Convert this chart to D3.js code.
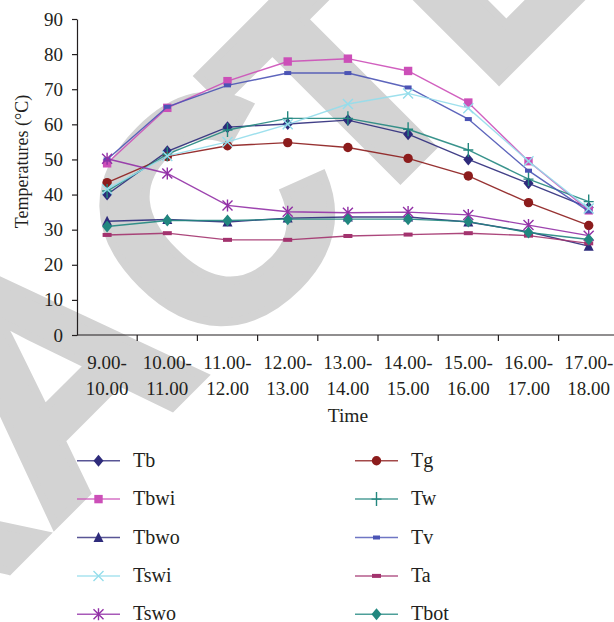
<!DOCTYPE html>
<html>
<head>
<meta charset="utf-8">
<script src="https://cdn.jsdelivr.net/npm/d3@7"></script>
<style>
  html, body { margin: 0; padding: 0; background: #ffffff; }
  svg { display: block; }
</style>
</head>
<body>
<svg id="chart" width="614" height="622"></svg>
<script>
// ---------------- DATA ----------------
const categories = ["9.00-10.00", "10.00-11.00", "11.00-12.00", "12.00-13.00", "13.00-14.00",
                    "14.00-15.00", "15.00-16.00", "16.00-17.00", "17.00-18.00"];
const yTicks = [0, 10, 20, 30, 40, 50, 60, 70, 80, 90];

const Tb    = [40.0, 52.3, 59.2, 60.1, 61.2, 57.2, 50.0, 43.2, 36.3];
const Tg    = [43.4, 50.8, 53.9, 54.8, 53.4, 50.3, 45.3, 37.7, 31.2];
const Tbwi  = [48.9, 64.7, 72.3, 77.9, 78.7, 75.2, 66.2, 49.5, 35.5];
const Tw    = [41.0, 51.5, 58.4, 61.7, 61.7, 58.6, 52.7, 44.4, 38.0];
const Tbwo  = [32.4, 32.9, 32.2, 33.3, 33.6, 33.6, 32.2, 29.4, 25.3];
const Tv    = [50.0, 65.0, 71.1, 74.6, 74.6, 70.5, 61.5, 46.8, 35.2];
const Tswi  = [41.5, 51.0, 55.0, 60.0, 65.8, 68.8, 64.6, 49.5, 36.0];
const Ta    = [28.5, 29.0, 27.1, 27.1, 28.2, 28.6, 29.0, 28.3, 26.1];
const Tswo  = [50.2, 46.0, 36.9, 35.1, 34.8, 35.0, 34.2, 31.3, 28.3];
const Tbot  = [30.9, 32.6, 32.6, 33.0, 33.0, 33.0, 32.3, 29.2, 27.2];

const seriesNames = ["Tb", "Tg", "Tbwi", "Tw", "Tbwo", "Tv", "Tswi", "Ta", "Tswo", "Tbot"];
const seriesValues = [Tb, Tg, Tbwi, Tw, Tbwo, Tv, Tswi, Ta, Tswo, Tbot];
const seriesColors = ["#2E2B7B", "#8C1C1C", "#CC4FB8", "#23877F", "#2E2B7B",
                      "#4B54B5", "#94DDEB", "#A3336E", "#9230A6", "#21877F"];
const seriesMarkers = ["diamond", "circle", "square", "plus", "triangle",
                       "dash", "cross", "dashWide", "asterisk", "diamond"];
const legendLeft  = ["Tb", "Tbwi", "Tbwo", "Tswi", "Tswo"];
const legendRight = ["Tg", "Tw", "Tv", "Ta", "Tbot"];

const xTitle = "Time";
const yTitle = "Temperatures (°C)";
const watermark = "RETRACTED";

// ---------------- LAYOUT ----------------
const FONT = "'Liberation Serif', 'Times New Roman', serif";
const INK = "#231f20";
const svg = d3.select("#chart");
const plotLeft = 77, plotRight = 618.8, plotTop = 19, plotBottom = 335;

const x = d3.scaleBand().domain(categories).range([plotLeft, plotRight]).padding(0);
const y = d3.scaleLinear().domain([0, 90]).range([plotBottom, plotTop]);
const cx = c => x(c) + x.bandwidth() / 2;

function serif(sel, size) {
  return sel.style("font-family", FONT).style("font-size", size + "px").style("fill", INK);
}

// ---------------- WATERMARK ----------------
const wmSize = 314;
const wm = svg.append("g").attr("transform", "translate(210,210) rotate(-45)");
const wmText = wm.append("text")
  .text(watermark)
  .style("font-family", "'Liberation Sans', Arial, sans-serif")
  .style("font-weight", "bold")
  .style("font-size", wmSize + "px")
  .style("fill", "#D3D3D3")
  .style("stroke", "#D3D3D3")
  .style("stroke-width", "8px")
  .style("stroke-linejoin", "miter");
{
  const n = wmText.node();
  const starts = d3.range(watermark.length).map(i => n.getStartPositionOfChar(i).x);
  const cMid = (n.getStartPositionOfChar(5).x + n.getEndPositionOfChar(5).x) / 2;
  const tStartWanted = 83;
  const delta = tStartWanted - (starts[6] - cMid);
  const xs = starts.map((s, i) => s - cMid + (i >= 6 ? delta : 0));
  wmText.attr("x", xs.join(" ")).attr("y", 113);
}

// ---------------- AXES ----------------
const yAxis = svg.append("g")
  .attr("transform", `translate(${plotLeft},0)`)
  .call(d3.axisLeft(y).tickValues(yTicks).tickSize(5).tickPadding(9).tickSizeOuter(0));
yAxis.select(".domain").attr("stroke", INK).attr("stroke-width", 1.2);
yAxis.selectAll(".tick line").attr("stroke", INK).attr("stroke-width", 1.2);
serif(yAxis.selectAll(".tick text"), 19);

const xAxis = svg.append("g").attr("transform", `translate(0,${plotBottom})`);
xAxis.append("line")
  .attr("x1", plotLeft).attr("x2", plotRight)
  .attr("stroke", INK).attr("stroke-width", 1.2);
xAxis.selectAll("line.tk")
  .data(categories.slice(1))
  .join("line")
  .attr("class", "tk")
  .attr("x1", d => x(d)).attr("x2", d => x(d))
  .attr("y1", 0).attr("y2", 6)
  .attr("stroke", INK).attr("stroke-width", 1.2);
const xl = serif(xAxis.selectAll("text.lbl")
  .data(categories)
  .join("text")
  .attr("class", "lbl")
  .attr("text-anchor", "middle"), 19);
xl.append("tspan").attr("x", d => cx(d)).attr("y", 33.5).text(d => d.split("-")[0] + "-");
xl.append("tspan").attr("x", d => cx(d)).attr("y", 59.5).text(d => d.split("-")[1]);

serif(svg.append("text")
  .attr("x", (plotLeft + plotRight) / 2)
  .attr("y", 421.7)
  .attr("text-anchor", "middle"), 19.5)
  .text(xTitle);
serif(svg.append("text")
  .attr("transform", "translate(28,161.5) rotate(-90)")
  .attr("text-anchor", "middle"), 18)
  .text(yTitle);

// ---------------- MARKERS ----------------
function drawMarker(g, type, color) {
  switch (type) {
    case "diamond":
      g.append("path").attr("d", "M0,-6L5,0L0,6L-5,0Z").attr("fill", color);
      break;
    case "square":
      g.append("rect").attr("x", -4.2).attr("y", -4.2).attr("width", 8.4).attr("height", 8.4).attr("fill", color);
      break;
    case "triangle":
      g.append("path").attr("d", "M0,-5.5L5,4.5L-5,4.5Z").attr("fill", color);
      break;
    case "circle":
      g.append("circle").attr("r", 4.7).attr("fill", color);
      break;
    case "cross":
      g.append("path").attr("d", "M-5,-5L5,5M-5,5L5,-5").attr("stroke", color).attr("stroke-width", 1.4).attr("fill", "none");
      break;
    case "asterisk":
      g.append("path").attr("d", "M-5,-5L5,5M-5,5L5,-5M0,-6L0,6").attr("stroke", color).attr("stroke-width", 1.4).attr("fill", "none");
      break;
    case "plus":
      g.append("path").attr("d", "M-5,0L5,0M0,-7L0,7").attr("stroke", color).attr("stroke-width", 1.4).attr("fill", "none");
      break;
    case "dash":
      g.append("rect").attr("x", -3.5).attr("y", -2).attr("width", 7).attr("height", 4).attr("fill", color);
      break;
    case "dashWide":
      g.append("rect").attr("x", -4.5).attr("y", -2).attr("width", 9).attr("height", 4).attr("fill", color);
      break;
  }
}

// ---------------- SERIES ----------------
const line = d3.line().x((d, i) => cx(categories[i])).y(d => y(d));
const plot = svg.append("g");
seriesNames.forEach((name, si) => {
  const vals = seriesValues[si];
  const color = seriesColors[si];
  const g = plot.append("g").attr("class", "series");
  g.append("path")
    .datum(vals)
    .attr("d", line)
    .attr("fill", "none")
    .attr("stroke", color)
    .attr("stroke-width", 1.4)
    .attr("stroke-opacity", 0.9);
  vals.forEach((v, i) => {
    const m = g.append("g").attr("transform", `translate(${cx(categories[i])},${y(v)})`);
    drawMarker(m, seriesMarkers[si], color);
  });
});

// ---------------- LEGEND ----------------
const legendCols = [
  { names: legendLeft, x0: 77 },
  { names: legendRight, x0: 355 }
];
const legendY0 = 460.7, legendStep = 38.4;
legendCols.forEach(col => {
  col.names.forEach((name, r) => {
    const si = seriesNames.indexOf(name);
    const color = seriesColors[si];
    const yy = legendY0 + r * legendStep;
    const g = svg.append("g").attr("transform", `translate(${col.x0},${yy})`);
    g.append("line").attr("x1", 0).attr("x2", 43).attr("y1", 0).attr("y2", 0)
      .attr("stroke", color).attr("stroke-width", 1.5).attr("stroke-opacity", 0.8);
    const m = g.append("g").attr("transform", "translate(21.5,0)");
    drawMarker(m, seriesMarkers[si], color);
    serif(g.append("text").attr("x", 56).attr("y", 6), 20).text(name);
  });
});
</script>
</body>
</html>
